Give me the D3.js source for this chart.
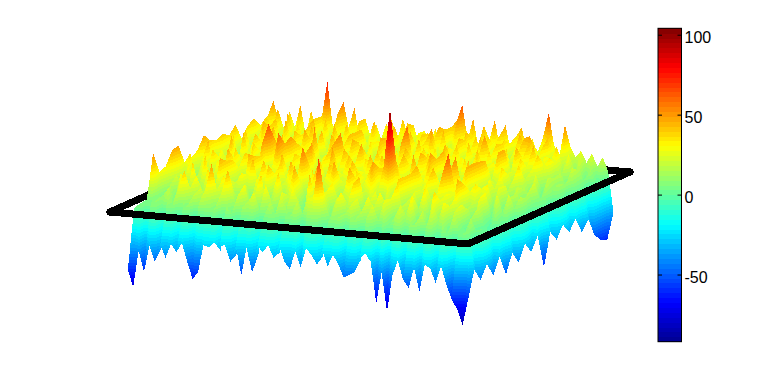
<!DOCTYPE html>
<html>
<head>
<meta charset="utf-8"/>
<title>Surface</title>
<script src="https://d3js.org/d3.v7.min.js"></script>
<style>
body{margin:0;background:#fff;}
svg{display:block;}
.tick text{font-family:"Liberation Sans",Arial,sans-serif;font-size:16px;fill:#000;}
</style>
</head>
<body>
<div id="chart"></div>
<script>
// surface heights, row00 = front edge, row23 = back edge
var row00=[-59,-77,-38,-60,-32,-48,-30,-43, -28,-36,-26,-45,-63,-55,-26,-28, -22,-26,-24,-41,-24,-54,-25,-50, -22,-28,-20,-33,-20,-36,-43,-24, -40,-20,-26,-36,-20,-37,-24,-34, -47,-44,-40,-24,-20,-28,-71,-38, -79,-40,-24,-44,-52,-30,-55,-26, -29,-44,-26,-45,-60,-70,-86,-59];
var row01=[3,3,-45,6,8,-38,9,7, -34,6,12,-30,14,9,7,11, -34,12,6,-36,14,7,9,-35, 6,11,8,-30,7,10,15,-38, 12,14,8,-30,7,10,13,-35, 9,12,-30,14,7,-45,6,-55, 9,13,-40,10,12,-40,9,11, -38,10,5,-48,6,7,4,-30];
var row02=[5,5,6,10,6,16,8,22, 12,4,20,8,26,14,5,24, 10,4,22,6,18,27,8,4, 19,6,24,12,3,21,10,26, 28,70,24,6,19,4,14,23, 5,18,3,25,8,20,4,14, 22,6,15,3,20,8,24,4, 14,3,18,6,4,10,-30,-44];
var row03=[6,6,8,12,20,5,26,40, 22,4,24,12,50,22,6,45, 16,3,30,12,22,5,33,14, 3,27,8,31,20,3,24,10, 29,25,5,22,32,12,3,27, 8,30,18,4,28,10,3,24, 14,33,4,20,3,27,12,31, 3,22,8,3,16,4,2,-30];
var row04=[52,7,-2,17,5,26,2,14, 32,8,-3,22,10,34,3,19, -2,27,7,17,40,2,12,24, -2,20,32,8,0,45,14,3, 27,7,22,-2,17,38,8,-2, 20,12,32,3,26,0,19,8, 31,2,17,7,38,10,-2,24, 5,27,0,14,-3,3,1,-45];
var row05=[29,0,17,8,31,3,22,-2, 14,38,7,20,0,27,12,5, 24,2,32,10,-2,19,40,7, 22,48,17,3,29,8,20,-2, 34,14,3,24,10,43,0,19, 29,5,17,-2,38,12,22,2, 15,34,7,-2,26,14,3,32, 8,19,-2,22,3,-2,-33,-28];
var row06=[32,3,24,12,0,40,8,19, 27,5,46,14,-2,22,32,10, 2,26,17,43,3,20,10,34, 7,27,0,24,46,15,5,29, 12,22,48,3,20,8,32,17, 2,27,14,40,5,19,26,0, 34,8,22,3,29,12,46,7, 17,2,27,8,-2,10,1,-50];
var row07=[46,10,2,31,17,7,38,22, 3,26,40,8,19,0,27,45, 17,45,10,31,5,24,46,12, 29,2,38,17,7,26,50,3, 22,14,34,8,24,46,17,2, 31,10,22,40,7,26,3,32, 19,8,46,14,27,2,38,12, 22,5,31,0,17,3,2,-30];
var row08=[48,14,32,5,22,40,10,27, 2,20,38,14,3,46,24,8, 32,17,5,40,22,10,27,58, 31,17,3,24,43,10,27,17, 7,38,20,34,50,22,45,85, 17,3,27,40,10,24,32,7, 26,42,65,35,19,5,27,35, 14,22,3,27,8,17,-30,-43];
var row09=[27,38,7,26,14,0,32,19, 46,8,27,3,22,40,12,32, 5,20,46,15,27,7,24,38, 17,43,2,26,34,10,22,45, 17,29,7,26,40,40,103,42, 31,8,22,46,17,27,45,20, 10,38,24,5,32,20,8,27, 33,7,20,2,24,10,1,-26];
var row10=[29,5,27,17,40,10,24,2, 32,14,40,20,7,38,17,27, 46,3,22,32,10,43,19,5, 29,20,46,7,26,38,12,31, 25,17,36,26,30,85,45,25, 20,34,7,26,43,12,27,17, 40,55,27,45,14,29,5,20, 10,27,2,17,7,19,0,-38];
var row11=[34,17,46,3,29,20,10,40, 22,7,32,19,48,12,26,60, 27,14,40,7,24,50,17,32, 8,50,22,12,43,19,7,27, 46,14,26,40,7,32,19,10, 50,29,17,43,8,24,38,14, 27,7,20,46,15,5,31,22, 12,26,3,19,8,14,-28,-24];
var row12=[47,24,7,32,20,43,12,26, 3,38,17,29,65,27,14,46, 22,8,34,19,50,7,27,40, 15,24,46,5,31,20,38,8, 26,43,14,3,29,46,17,24, 8,32,50,20,7,38,14,29, 22,46,10,45,17,27,3,32, 14,8,22,2,17,5,1,-60];
var row13=[39,10,31,22,46,5,27,17, 40,8,24,32,46,19,34,50, 12,27,5,40,20,32,10,48, 24,7,34,19,50,14,27,43, 7,24,38,12,20,31,5,46, 27,15,40,8,22,34,19,7, 32,12,26,43,5,20,38,8, 24,2,17,10,24,7,1,-26];
var row14=[36,22,8,34,14,46,24,7, 29,19,43,10,32,22,8,40, 26,15,46,5,24,34,14,55, 20,29,10,43,19,7,32,24, 40,12,26,46,15,5,27,38, 14,22,46,7,29,17,40,10, 24,38,5,20,32,14,27,7, 38,17,7,22,3,14,-30,-37];
var row15=[40,14,38,7,27,20,43,12, 24,34,8,46,17,27,7,32, 19,55,24,12,40,8,31,22, 46,15,5,29,20,40,10,26, 17,46,7,32,22,12,38,8, 27,43,19,7,34,24,10,40, 17,29,8,46,14,26,5,31, 20,10,27,3,19,7,0,-24];
var row16=[35,20,10,43,24,3,32,19, 46,12,27,7,38,22,48,14, 29,7,20,46,15,32,5,26, 40,17,27,8,46,22,14,34, 22,62,26,14,40,7,29,19, 46,10,24,34,5,27,43,15, 8,32,20,46,12,24,38,7, 27,17,3,20,10,15,1,-35];
var row17=[43,12,32,17,5,40,24,46, 8,29,19,43,3,26,34,14, 46,20,7,31,22,43,10,27, 15,38,5,26,43,17,29,7, 32,19,46,10,24,38,8,22, 29,43,14,26,5,34,20,40, 17,7,29,20,46,8,26,14, 40,22,7,17,2,12,-25,-24];
var row18=[26,32,7,26,46,10,29,20, 40,15,5,34,24,46,12,27, 8,40,19,29,7,43,22,14, 34,5,27,46,15,24,8,40, 20,32,10,46,26,7,38,17, 27,12,43,22,7,52,29,8, 24,40,15,5,32,20,46,10, 26,34,5,19,8,15,1,-41];
var row19=[37,17,27,8,38,24,12,46, 20,31,5,40,26,10,34,22, 46,15,29,7,24,43,19,8, 32,22,40,12,27,5,46,17, 26,38,50,20,8,32,24,43, 10,29,19,46,5,27,40,15, 22,7,34,26,43,12,20,32, 8,24,14,3,22,10,1,-30];
var row20=[41,8,32,22,43,7,27,17, 38,26,10,46,19,32,5,29, 22,43,14,34,8,24,40,12, 29,7,46,20,32,14,26,40, 8,32,22,46,12,27,5,38, 20,43,10,31,24,7,38,17, 29,22,46,48,14,34,8,26, 40,12,27,5,17,7,-30,-50];
var row21=[31,40,17,26,8,46,22,32, 12,38,24,7,43,19,29,10, 40,20,32,5,27,46,17,24, 8,34,22,43,14,29,7,38, 19,46,26,10,32,20,43,8, 27,17,40,24,5,38,14,29, 46,20,10,32,22,43,7,26, 15,29,10,20,2,12,1,-58];
var row22=[36,27,46,19,34,24,43,14, 29,40,20,32,10,46,24,31, 17,40,27,12,38,22,32,46, 20,29,43,15,34,24,10,32, 27,40,19,46,22,14,34,26, 43,17,29,38,20,32,10,40, 26,34,22,12,40,27,17,32, 19,10,22,7,14,3,2,-61];
var row23=[51,30,22,41,25,49,18,44, 22,39,76,30,25,56,28,51, 20,41,22,36,20,38,15,22, 44,24,38,18,33,20,37,18, 15,40,47,64,28,51,20,44, 30,51,22,47,18,36,46,20, 35,18,39,64,30,20,53,30, 20,27,15,25,12,22,8,-35];

var zGrid=[row00,row01,row02,row03,row04,row05,row06,row07,row08,row09,row10,row11,row12,row13,row14,row15,row16,row17,row18,row19,row20,row21,row22,row23];

var zDomain=[-92,104];
var colorbarTicks=[-50,0,50,100];
var planeCols=[-3.3,63];
var planeRows=[0,25.6];
var nLevels=64;

var width=774,height=384;

var svg=d3.select("#chart").append("svg").attr("width",width).attr("height",height);

// jet colormap, 64 steps like the colorbar
var jet=d3.scaleLinear()
  .domain([0,1/8,3/8,5/8,7/8,1])
  .range(["#000090","#0000ff","#00ffff","#ffff00","#ff0000","#800000"]);
var levels=d3.range(nLevels);
var colors=levels.map(function(d){return jet((d+0.5)/nLevels);});
var colorScale=d3.scaleQuantize().domain(zDomain).range(colors);
var bandEdges=[zDomain[0]].concat(colorScale.thresholds(),[zDomain[1]]);

// oblique view: screen position = column part + row part + height part
var xCol=d3.scaleLinear().domain(planeCols).range([110,468]);
var xRow=d3.scaleLinear().domain(planeRows).range([0,162]);
var yCol=d3.scaleLinear().domain(planeCols).range([212,244]);
var yRow=d3.scaleLinear().domain(planeRows).range([0,-72]);
var yZ=d3.scaleLinear().domain([0,100]).range([0,-95]);

function screen(p){
  return [xCol(p[0])+xRow(p[1]),yCol(p[0])+yRow(p[1])+yZ(p[2])];
}

function clip(poly,level,keepAbove){
  var out=[];
  for(var n=0;n<poly.length;n++){
    var a=poly[n],b=poly[(n+1)%poly.length];
    var aIn=keepAbove?a[2]>=level:a[2]<=level;
    var bIn=keepAbove?b[2]>=level:b[2]<=level;
    if(aIn)out.push(a);
    if(aIn!==bIn){
      var t=(level-a[2])/(b[2]-a[2]);
      out.push([a[0]+t*(b[0]-a[0]),a[1]+t*(b[1]-a[1]),level]);
    }
  }
  return out;
}

// slice a triangle along the colour bands
function sliceTriangle(tri,pieces){
  var zs=tri.map(function(p){return p[2];});
  var lo=d3.min(zs),hi=d3.max(zs);
  for(var b=0;b<nLevels;b++){
    if(bandEdges[b+1]<lo||bandEdges[b]>hi)continue;
    var poly=clip(clip(tri,bandEdges[b],true),bandEdges[b+1],false);
    if(poly.length>2)pieces.push({color:colors[b],pts:poly.map(screen)});
  }
}

// painter's order: back row first, and towards the front corner inside a row
// the fold runs along the nearly vertical diagonal of each cell
var pieces=[];
for(var j=zGrid.length-2;j>=0;j--){
  for(var i=0;i<zGrid[j].length-1;i++){
    var p00=[i,j,zGrid[j][i]],p10=[i+1,j,zGrid[j][i+1]],
        p01=[i,j+1,zGrid[j+1][i]],p11=[i+1,j+1,zGrid[j+1][i+1]];
    sliceTriangle([p00,p10,p01],pieces);
    sliceTriangle([p10,p11,p01],pieces);
  }
}

var frameLine=d3.line()
  .x(function(d){return xCol(d[0])+xRow(d[1]);})
  .y(function(d){return yCol(d[0])+yRow(d[1]);});

function drawFrame(corners){
  svg.append("path")
    .attr("d",frameLine(corners))
    .attr("fill","none")
    .attr("stroke","#000")
    .attr("stroke-width",7)
    .attr("stroke-linecap","round")
    .attr("stroke-linejoin","round")
    .attr("shape-rendering","crispEdges");
}

drawFrame([[planeCols[0],planeRows[0]],[planeCols[0],planeRows[1]],[planeCols[1],planeRows[1]]]);

svg.append("g").selectAll("path")
  .data(pieces)
  .join("path")
  .attr("d",function(d){return "M"+d.pts.map(function(p){return p[0].toFixed(1)+","+p[1].toFixed(1);}).join("L")+"Z";})
  .attr("fill",function(d){return d.color;})
  .attr("shape-rendering","crispEdges");

drawFrame([[planeCols[0],planeRows[0]],[planeCols[1],planeRows[0]],[planeCols[1],planeRows[1]]]);

// colorbar
var barLeft=658,barRight=681.5;
var barScale=d3.scaleLinear().domain(zDomain).range([341.7,28.3]);
var barBand=d3.scaleBand().domain(levels.slice().reverse()).range([28.3,341.7]);

svg.append("g").selectAll("rect")
  .data(levels)
  .join("rect")
  .attr("x",barLeft)
  .attr("width",barRight-barLeft)
  .attr("y",function(d){return barBand(d);})
  .attr("height",barBand.bandwidth()+0.5)
  .attr("fill",function(d){return colors[d];})
  .attr("shape-rendering","crispEdges");

svg.append("g")
  .attr("transform","translate("+barRight+",0)")
  .call(d3.axisRight(barScale).tickValues(colorbarTicks).tickSize(-4).tickPadding(3).tickFormat(String))
  .call(function(g){g.select(".domain").remove();g.selectAll("text").attr("dy","0.5em");});

svg.append("g")
  .attr("transform","translate("+barLeft+",0)")
  .call(d3.axisLeft(barScale).tickValues(colorbarTicks).tickSize(-4).tickFormat(""))
  .call(function(g){g.select(".domain").remove();});

svg.append("rect")
  .attr("x",barLeft)
  .attr("y",28.3)
  .attr("width",barRight-barLeft)
  .attr("height",341.7-28.3)
  .attr("fill","none")
  .attr("stroke","#000")
  .attr("stroke-width",1);
</script>
</body>
</html>
